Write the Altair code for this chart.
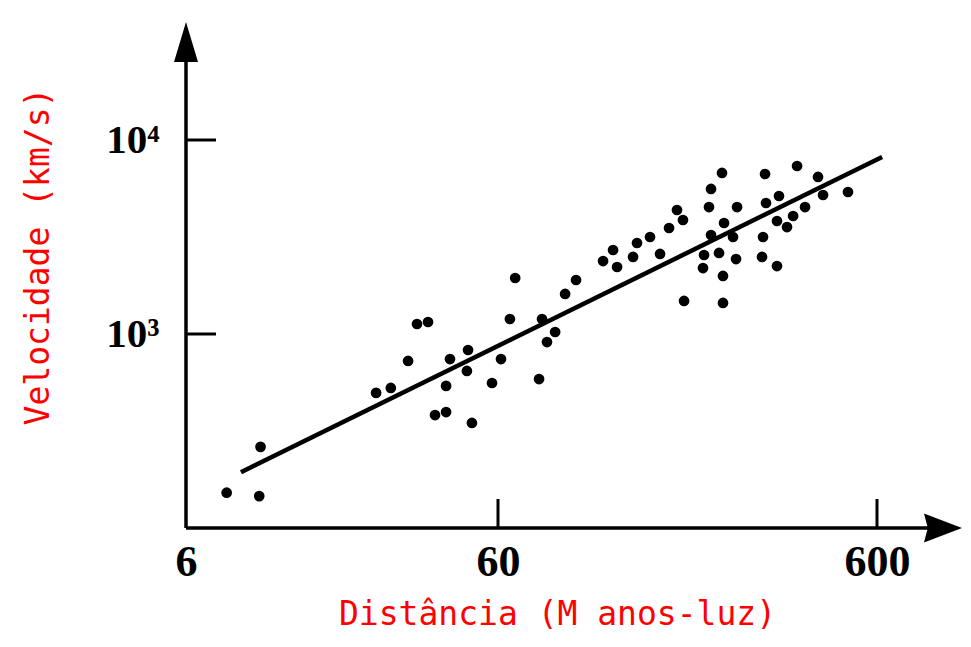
import altair as alt
import pandas as pd

# ---- data (distance in M light-years, velocity in km/s)
DIST = [8.1, 10.3, 10.4, 24.4, 27.2, 30.9, 33.0, 35.8, 37.7, 40.9, 40.9, 42.1, 48.1, 47.7,
        49.5, 57.4, 61.1, 64.5, 66.6, 77.0, 78.4, 80.8, 84.9, 90.2, 96.4,
        113.6, 120.7, 123.7, 136.3, 139.6, 151.1, 160.6, 169.6, 178.0, 184.6, 185.8,
        208.5, 209.8, 218.9, 218.9, 216.2, 234.0, 229.8, 235.4, 235.4, 236.9, 250.2,
        254.8, 256.4, 303.9, 369.2, 419.3, 432.3, 503.0, 305.7, 330.8, 360.4, 387.5,
        326.8, 347.3, 300.2, 298.4, 326.8]
VEL = [152, 146, 262, 497, 527, 726, 1126, 1153, 382, 396, 540, 743, 827, 645,
       348, 559, 743, 1195, 1944, 586, 1195, 909, 1024, 1608, 1898,
       2378, 2710, 2215, 2495, 2945, 3162, 2585, 3519, 4357, 3869, 1480,
       2188, 2554, 3238, 5591, 4514, 6761, 2616, 1991, 1445, 3734, 3162,
       2435, 4514, 6680, 7345, 6447, 5206, 5395, 4734, 5144, 4057, 4514,
       3824, 3560, 3162, 2495, 2241]

FIT_DIST = [9.0, 619.0]
FIT_VEL = [194.0, 8170.0]

X_TICKS = [6, 60, 600]
Y_TICKS = [1000, 10000]

X_AXIS_START = 6
Y_AXIS_START = 100
X_AXIS_END = 840
Y_AXIS_END = 28000
X_ARROW_AT = 896
Y_ARROW_AT = 32000

df = pd.DataFrame({"dist": DIST, "vel": VEL})
fit = pd.DataFrame({"dist": FIT_DIST, "vel": FIT_VEL})

x_scale = alt.Scale(type="log", domain=[6, 60, 600], range=[0, 312, 691], nice=False)
y_scale = alt.Scale(type="log", domain=[100, 10000], range=[506, 118], nice=False)

x_axis = alt.Axis(
    title="Distância (M anos-luz)", values=X_TICKS, format="d",
    domain=False, ticks=False, grid=False, labelOverlap=False, labelFlush=False,
    labelBound=False, labelFont="Liberation Serif", labelFontWeight="bold",
    labelFontSize=44, labelColor="black", labelPadding=12,
    titleFont="DejaVu Sans Mono", titleFontWeight="normal", titleFontSize=33,
    titleColor="#ff0000", titleX=371, titleY=86, titleAlign="center",
    titleBaseline="middle",
)
y_axis = alt.Axis(
    title="Velocidade (km/s)", values=Y_TICKS,
    labelExpr="datum.value >= 10000 ? '10⁴' : '10³'",
    domain=False, ticks=False, grid=False, labelOverlap=False, labelFlush=False,
    labelBound=False, labelFont="Liberation Serif", labelFontWeight="bold",
    labelFontSize=41, labelColor="black", labelPadding=27,
    titleFont="DejaVu Sans Mono", titleFontWeight="normal", titleFontSize=33,
    titleColor="#ff0000", titleAngle=270, titleX=-148, titleY=234,
    titleAlign="center", titleBaseline="middle",
)

points = alt.Chart(df).mark_circle(size=115, color="black", opacity=1).encode(
    x=alt.X("dist:Q", scale=x_scale, axis=x_axis),
    y=alt.Y("vel:Q", scale=y_scale, axis=y_axis),
)

fit_line = alt.Chart(fit).mark_line(color="black", strokeWidth=4.5).encode(
    x=alt.X("dist:Q", scale=x_scale),
    y=alt.Y("vel:Q", scale=y_scale),
)

y_axis_line = alt.Chart(pd.DataFrame({"x": [X_AXIS_START], "y": [Y_AXIS_START], "y2": [Y_AXIS_END]})).mark_rule(
    color="black", strokeWidth=3.5).encode(
    x=alt.X("x:Q", scale=x_scale), y=alt.Y("y:Q", scale=y_scale), y2="y2:Q")

x_axis_line = alt.Chart(pd.DataFrame({"x": [X_AXIS_START], "x2": [X_AXIS_END], "y": [Y_AXIS_START]})).mark_rule(
    color="black", strokeWidth=3.5).encode(
    x=alt.X("x:Q", scale=x_scale), x2="x2:Q", y=alt.Y("y:Q", scale=y_scale))

y_ticks = alt.Chart(pd.DataFrame({"v": Y_TICKS, "x": [X_AXIS_START] * len(Y_TICKS)})).mark_rule(
    color="black", strokeWidth=3).encode(
    x=alt.X("x:Q", scale=x_scale), x2=alt.value(30), y=alt.Y("v:Q", scale=y_scale))

x_ticks = alt.Chart(pd.DataFrame({"v": X_TICKS[1:], "y": [Y_AXIS_START] * (len(X_TICKS) - 1)})).mark_rule(
    color="black", strokeWidth=3).encode(
    x=alt.X("v:Q", scale=x_scale), y=alt.Y("y:Q", scale=y_scale), y2=alt.value(477))

up_arrow = alt.Chart(pd.DataFrame({"x": [X_AXIS_START], "y": [Y_ARROW_AT]})).mark_point(
    shape="M0,-1 L0.6,1 L-0.6,1 Z", size=1600, filled=True, color="black", opacity=1, strokeWidth=0).encode(
    x=alt.X("x:Q", scale=x_scale), y=alt.Y("y:Q", scale=y_scale))

right_arrow = alt.Chart(pd.DataFrame({"x": [X_ARROW_AT], "y": [Y_AXIS_START]})).mark_point(
    shape="M1,0 L-1,-0.76 L-0.8,0 L-1,0.76 Z", size=1444, filled=True, color="black", opacity=1, strokeWidth=0).encode(
    x=alt.X("x:Q", scale=x_scale), y=alt.Y("y:Q", scale=y_scale))

chart = alt.layer(
    points, fit_line, y_axis_line, x_axis_line, y_ticks, x_ticks, up_arrow, right_arrow
).properties(
    width=776, height=506,
    autosize=alt.AutoSizeParams(type="none"),
    padding={"left": 178, "top": 14, "right": 1, "bottom": 111},
    background="white",
).configure_view(stroke=None)

chart.save("out.html", embed_options={"renderer": "svg", "actions": False})
